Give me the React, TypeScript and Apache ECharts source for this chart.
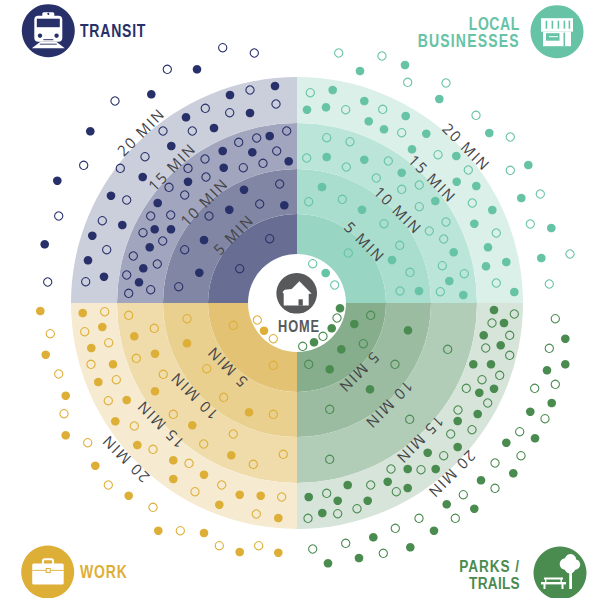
import React, { useEffect, useRef } from "react";
import * as echarts from "echarts";

const ringRadii = [49, 89, 134, 180, 226];
const ringMinutes = ["5 MIN", "10 MIN", "15 MIN", "20 MIN"];
const transitShades = ["#686e93", "#8186a5", "#a1a5bd", "#cbcedb"];
const localShades = ["#98d6c3", "#a9ddcd", "#bce5d9", "#daf0e8"];
const workShades = ["#e4c273", "#e9d08f", "#efdcaa", "#f6ebd0"];
const parksShades = ["#86ae8c", "#9bbca1", "#b1cdb8", "#d6e4da"];

const NAVY = "#28306a";
const TEAL = "#66c3a5";
const GOLD = "#deaf37";
const GREEN = "#4a8b50";
const INK = "#58595b";

const transitFilled = [[197,69.3],[151.3,94.3],[90.3,131.3],[57.3,180.7],[44.7,244.3],[275,86],[230,95],[250,113],[186,117.3],[214,128],[171.3,146],[269.7,136],[222.7,151],[252.3,152.3],[288.7,161.3],[223.7,167.7],[142.7,177],[188,181.7],[244,189.7],[111,195.7],[157.7,203],[284.3,205.3],[229.3,209.7],[122.3,225],[154.7,229.3],[171,229.3],[92.3,235.7],[204,240],[149.7,247.3],[88,260.3],[143.3,268.3],[199.3,272.7],[104,276.7],[139,282.3]];
const transitHollow = [[222.7,47.7],[254.3,53],[167.3,69.3],[115,101],[83.7,165.3],[58.7,216],[47.7,282],[250,90],[276,104],[205.3,108.3],[229.7,112.7],[163,131],[192.3,131],[286.7,131],[256.7,138],[238.7,142.3],[276.7,151],[145,156.7],[205,159],[263,163.3],[243.3,167.7],[120.3,168.3],[188,168.3],[206,177],[169,187.3],[279.7,184],[184.7,195],[126.7,200],[259.7,204],[170.7,215],[150.7,216],[209,216],[102.3,220.7],[143,232.7],[162.7,241],[269.7,238.7],[106.7,249.7],[184.7,249.7],[133.3,256],[157.3,264],[239.7,268.7],[126.7,275],[85.7,281.7],[150.7,289.7],[178.7,286.7],[128.7,293.3]];
const localFilled = [[360,71],[405,65],[439.3,99],[332.7,90],[364.3,101],[307,109.7],[326,107.3],[405.7,116],[368.7,121.3],[384,129.3],[426.3,133.7],[489.3,133],[412,149.3],[326.7,157],[364.3,159.7],[456.3,156],[528.3,165],[401.7,172.7],[456.7,181.7],[476.3,186],[322,187],[521.3,198],[435.3,201],[492.3,210],[362,209.7],[474.3,223.7],[551.3,228],[453.7,252.3],[488,247.3],[541.3,258],[392,260],[506.3,262],[486,266.3],[449.3,281],[419,291],[463.3,295],[514.3,292],[325.7,273]];
const localHollow = [[338.7,53],[382,56],[407.7,82.3],[446,83],[310.3,92.7],[345.7,109.7],[382.7,109.3],[476,115.3],[401.7,132.7],[510.3,137],[326.7,137.7],[350,141.7],[306.7,158],[438,154.7],[388.3,161],[346.3,167],[468.3,170],[510.3,170.3],[376.3,178],[419.3,185],[401.7,189.3],[540.3,194],[308.7,201.7],[342.3,199.3],[472.3,203],[419.3,206.7],[446,222],[384,223.7],[530.3,224],[429.3,231],[496.3,233],[443.7,239],[399.7,245.3],[348.3,253],[570,254],[442.3,265.7],[410,272.3],[464.3,273.7],[496.3,283],[549.3,284],[400,291],[440.3,291.7],[312.7,263.7],[334.7,285]];
const workFilled = [[40.3,311],[82.7,313],[102.3,327],[134.3,336.3],[264,330.7],[187,343.3],[91.3,348],[45.7,354.7],[155,353.7],[113,364.3],[98.3,382],[155,391.3],[65.7,395.7],[126.7,400],[249,412.3],[115.3,421.3],[192.3,425.3],[65.7,435.3],[137.3,445],[231.3,455.3],[173.3,460.3],[95.3,465.7],[204,474.7],[173.3,479],[239.7,494.7],[260.7,495.7],[128.7,495.7],[219.3,504.7],[278.3,518],[158.3,530.7],[204,533],[239.7,552],[278.3,552.7]];
const workHollow = [[104.7,311.7],[128.7,315.3],[187,318.7],[257.3,320],[233.3,325.3],[154.3,328.3],[84.7,331.7],[50.3,333.7],[273.3,338.7],[108.7,342.7],[136.3,358.3],[91,364.3],[273.3,365.3],[206.7,368.7],[58.7,374],[163.3,374.3],[116.3,379.7],[223.7,397.3],[108.3,400.7],[64,413.7],[173.3,414.3],[273.3,414.3],[134.3,426],[233.3,434],[87.7,442.7],[203.7,444],[153,449.3],[283.3,454.3],[189,463.3],[253.3,464.3],[108.3,485],[221.7,485],[195,491.7],[281.7,497],[153,507.3],[256.3,514],[180.3,530.7],[219.3,545.7],[258.7,545.7]];
const parksFilled = [[340,308.3],[494,310],[504,323],[354.3,324],[331.7,328.3],[408,330.3],[483.7,335.3],[565.3,338.7],[314,342.3],[500.7,345.3],[341.3,349.3],[473.3,364.3],[491,364.3],[565.3,364.3],[329.7,369.3],[547,370.3],[370,389.3],[494,388.7],[479.3,392.7],[551.7,403],[477.7,414],[530.3,411.7],[457.7,421],[535,438.3],[506.3,442.7],[457.7,447],[427.7,452.7],[407.7,469],[435.7,469],[513.3,473.3],[481,480.3],[387.7,481.7],[347.7,485],[407.7,488],[308.7,497],[367.7,500.7],[337.7,500.7],[446.7,504.3],[474.3,508.7],[322.3,513],[434,530.7],[373.3,537.3],[410.3,547.3],[359,558],[328,563.3]];
const parksHollow = [[555.3,318.7],[514.3,314],[370.7,315.3],[492,323],[337,318],[323,336.3],[509.7,335.3],[363.3,343.7],[302.7,346.3],[447.7,349.3],[549.3,348.3],[485.7,348],[509.7,355.3],[308.7,364.3],[395,364.3],[499.7,375.3],[482,379.7],[555.3,384.3],[466.3,388.3],[534.7,388.3],[487.7,403],[329.7,409.3],[458,410],[409.7,419.3],[545,418.7],[472,429.7],[519.7,431.7],[450.7,434],[443.7,455.7],[521,455.7],[329.7,459.3],[495,463],[391,469],[421,469.7],[370.7,485],[495,488.3],[396.3,491.7],[326.7,493.3],[463.3,494.7],[357,508.7],[337.7,513.7],[308,518.3],[455.3,518.3],[419,518.3],[395.3,528.3],[345.7,543.3],[312.7,549],[383.3,553.3]];

const CX = 297;
const CY = 303;
const D2R = Math.PI / 180;

function ringSeries(): any[] {
  return ringMinutes.map((m, i) => ({
    type: "pie",
    name: m,
    silent: true,
    z: 1,
    center: [CX, CY],
    radius: [ringRadii[i], ringRadii[i + 1]],
    startAngle: 90,
    label: { show: false },
    labelLine: { show: false },
    emphasis: { disabled: true },
    data: [
      { value: 1, name: "Local businesses", itemStyle: { color: localShades[i] } },
      { value: 1, name: "Parks / trails", itemStyle: { color: parksShades[i] } },
      { value: 1, name: "Work", itemStyle: { color: workShades[i] } },
      { value: 1, name: "Transit", itemStyle: { color: transitShades[i] } },
    ],
  }));
}

function dots(name: string, data: number[][], color: string, hollow: boolean) {
  return {
    type: "scatter",
    name,
    z: 3,
    clip: false,
    silent: true,
    data,
    symbol: "circle",
    symbolSize: hollow ? 8.3 : 8.6,
    itemStyle: hollow
      ? { color: "transparent", borderColor: color, borderWidth: 1.1, opacity: 1 }
      : { color, opacity: 1 },
  };
}

const box = (x: number, y: number, w: number, h: number, fill: string, r = 0): any => ({
  type: "rect",
  shape: { x, y, width: w, height: h, r },
  style: { fill },
});
const dot = (cx: number, cy: number, r: number, fill: string): any => ({
  type: "circle",
  shape: { cx, cy, r },
  style: { fill },
});
const poly = (points: number[][], fill: string): any => ({
  type: "polygon",
  shape: { points },
  style: { fill },
});
const W = "#ffffff";

function badge(x: number, y: number, color: string, parts: any[]) {
  return { type: "group", x, y, z: 10, silent: true, children: [dot(0, 0, 26.5, color), ...parts] };
}

const trainIcon = [
  box(-6, -18.5, 12, 5, W, 1.5),
  dot(0, -16.8, 1, NAVY),
  box(-14, -15, 28, 26, W, 4),
  box(-11.5, -12, 23, 8.5, NAVY),
  dot(-8.3, 5, 2.2, NAVY),
  dot(8.3, 5, 2.2, NAVY),
  box(-5, 8.5, 10, 1, NAVY),
  poly([[-8, 11], [8, 11], [16.5, 17.5], [-16.5, 17.5]], W),
  box(-8.5, 13, 17, 0.9, NAVY),
];
const storeIcon = [
  box(-16, -13.5, 32, 13.5, W),
  box(-11.4, -11, 1.6, 8, TEAL),
  box(-5.4, -11, 1.6, 8, TEAL),
  box(0.6, -11, 1.6, 8, TEAL),
  box(6.6, -11, 1.6, 8, TEAL),
  box(11.6, -11, 1.6, 8, TEAL),
  box(-14, 0, 28, 14.5, W),
  box(-11, 1.5, 13.5, 7.5, TEAL),
  box(-8, 4.5, 9, 1, W),
  box(6.5, 1, 1.6, 13.5, TEAL),
];
const caseIcon = [
  {
    type: "rect",
    shape: { x: -4.8, y: -12.8, width: 10.2, height: 6, r: 2 },
    style: { fill: "none", stroke: W, lineWidth: 2 },
  },
  box(-15.5, -8.5, 31.5, 21, W, 1.5),
  box(-15.5, -2.1, 31.5, 0.9, GOLD),
  box(-2, -4, 5, 5, GOLD),
  box(-1, -3, 3, 3, W),
];
const parkIcon = [
  box(9.2, 0, 2.8, 16, W),
  dot(5.5, -9, 5.8, W),
  dot(10.5, -13.5, 5.6, W),
  dot(15, -8.5, 5.2, W),
  dot(10, -5, 5.4, W),
  box(-16, 4.5, 19, 2, W),
  box(-19, 9, 25, 2.4, W),
  box(-15, 6, 1.4, 3, W),
  box(0.5, 6, 1.4, 3, W),
  box(-16.5, 11, 2, 5, W),
  box(1.5, 11, 2, 5, W),
];
const houseIcon = [
  poly(
    [[2.7, -12], [15, 0.5], [12, 0.5], [12, 12.3], [-13, 12.3], [-13, 0.5], [-14.2, -1.2], [-12, -3.6], [-5, -4.2]],
    W
  ),
  box(1.8, 6, 4.3, 6.3, INK),
];

function headline(text: string, x: number, y: number, color: string, align: string, size = 17.5) {
  return {
    type: "text",
    x,
    y,
    scaleX: 0.8,
    z: 10,
    silent: true,
    style: {
      text,
      fill: color,
      fontFamily: "'Liberation Sans'",
      fontWeight: "bold",
      fontSize: size,
      align,
      verticalAlign: "middle",
    },
  };
}

function minuteLabel(text: string, x: number, y: number, deg: number) {
  return {
    type: "text",
    x,
    y,
    rotation: deg * D2R,
    z: 5,
    silent: true,
    style: {
      text,
      fill: "#444446",
      fontFamily: "'Open Sans'",
      fontSize: 15,
      align: "center",
      verticalAlign: "middle",
    },
  };
}

const labelSpots: [number, number, number, number][] = [
  [0, 233.3, 234.3, 45],
  [1, 204, 201.7, 45],
  [2, 171.7, 166.7, 45],
  [3, 140.7, 131.7, 45],
  [0, 365, 241.7, -45],
  [1, 398.3, 210, -45],
  [2, 432.7, 178.3, -45],
  [3, 466.7, 146.7, -45],
  [0, 226.7, 367, 135],
  [1, 193.7, 396.3, 135],
  [2, 160, 424.7, 135],
  [3, 125, 459, 135],
  [0, 359.3, 373, 225],
  [1, 389.3, 405.3, 225],
  [2, 420.3, 440.3, 225],
  [3, 452, 474.7, 225],
];

const headlineSpacing: Record<string, string> = {
  TRANSIT: "1px",
  LOCAL: "0.7px",
  BUSINESSES: "1.5px",
  WORK: "1.1px",
  "PARKS /": "1.2px",
  TRAILS: "0.4px",
  HOME: "1.1px",
};

export default function App() {
  const ref = useRef<HTMLDivElement>(null);
  useEffect(() => {
    if (!ref.current) return;
    const chart = echarts.init(ref.current, undefined, { renderer: "svg" });
    chart.setOption({
      animation: false,
      backgroundColor: "#ffffff",
      grid: { left: 0, right: 0, top: 0, bottom: 0 },
      xAxis: { type: "value", min: 0, max: 596, show: false },
      yAxis: { type: "value", min: 0, max: 598, inverse: true, show: false },
      series: [
        ...ringSeries(),
        dots("Transit reachable", transitFilled, NAVY, false),
        dots("Transit other", transitHollow, NAVY, true),
        dots("Local reachable", localFilled, TEAL, false),
        dots("Local other", localHollow, TEAL, true),
        dots("Work reachable", workFilled, GOLD, false),
        dots("Work other", workHollow, GOLD, true),
        dots("Parks reachable", parksFilled, GREEN, false),
        dots("Parks other", parksHollow, GREEN, true),
      ],
      graphic: {
        elements: [
          badge(48.3, 30.7, NAVY, trainIcon),
          badge(557, 31.7, TEAL, storeIcon),
          badge(47.7, 572, GOLD, caseIcon),
          badge(560, 573, GREEN, parkIcon),
          { type: "group", x: 296.7, y: 293.3, z: 6, silent: true, children: [dot(0, 0, 20.3, INK), ...houseIcon] },
          headline("TRANSIT", 80, 30.7, NAVY, "left"),
          headline("LOCAL", 519.8, 23.5, TEAL, "right"),
          headline("BUSINESSES", 519.8, 41, TEAL, "right"),
          headline("WORK", 80, 572, GOLD, "left"),
          headline("PARKS /", 520, 565.5, GREEN, "right", 17),
          headline("TRAILS", 520, 583.3, GREEN, "right", 17),
          headline("HOME", 299, 326.5, INK, "center", 16),
          ...labelSpots.map(([i, x, y, deg]) => minuteLabel(ringMinutes[i], x, y, deg)),
        ],
      },
    });
    const spaced = () => {
      ref.current?.querySelectorAll("svg text").forEach((t: any) => {
        const s = t.textContent || "";
        t.style.letterSpacing = s.includes("MIN") ? "1.7px" : headlineSpacing[s] || "1px";
      });
    };
    spaced();
    chart.on("finished", spaced);
    return () => chart.dispose();
  }, []);
  return <div ref={ref} style={{ position: "absolute", left: 0, top: 0, width: 596, height: 598 }} />;
}
